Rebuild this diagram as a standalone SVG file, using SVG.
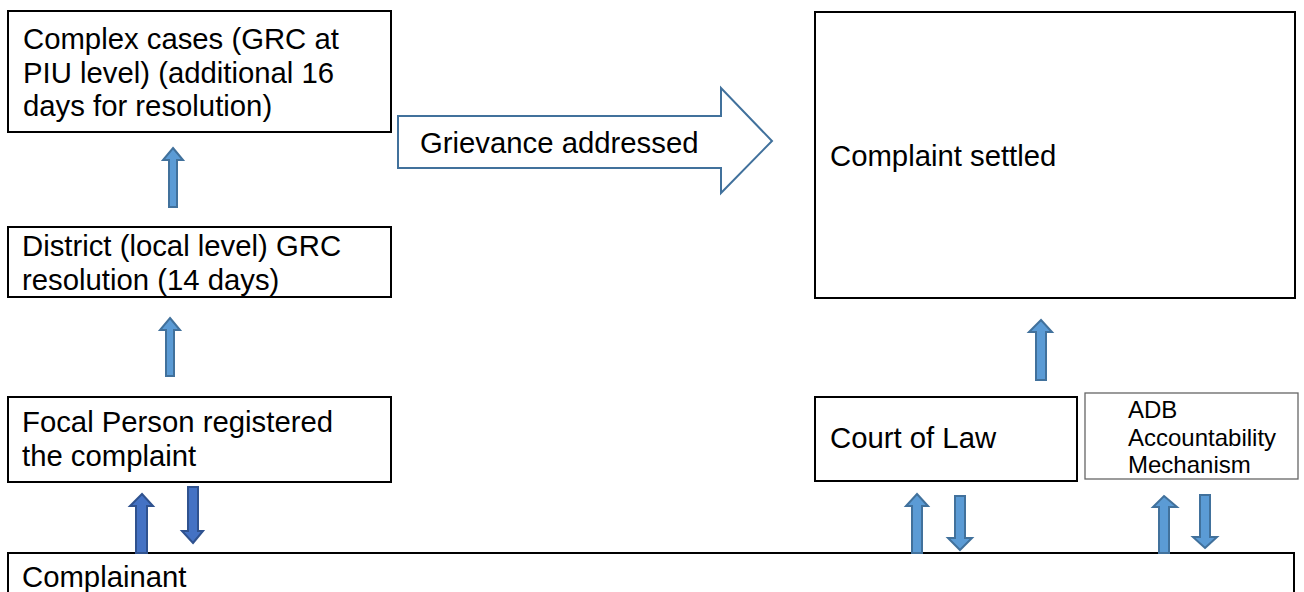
<svg xmlns="http://www.w3.org/2000/svg" width="1304" height="592" viewBox="0 0 1304 592">
<style>
.box{fill:#fff;stroke:#000;stroke-width:2}
.thin{fill:#fff;stroke:#666;stroke-width:1.3}
.t{font-family:"Liberation Sans",Arial,sans-serif;font-size:29.3px;fill:#000}
.s{font-family:"Liberation Sans",Arial,sans-serif;font-size:24px;fill:#000}
.a{fill:#5B9BD5;stroke:#41719C;stroke-width:2;stroke-linejoin:miter}
.d{fill:#4472C4;stroke:#2F528F;stroke-width:2;stroke-linejoin:miter}
.big{fill:#fff;stroke:#41719C;stroke-width:2}
</style>
<rect width="1304" height="592" fill="#fff"/>
<g id="complex">
<rect class="box" x="8" y="11" width="383" height="121"/>
<text class="t" x="23" y="49">Complex cases (GRC at</text>
<text class="t" x="23" y="83">PIU level) (additional 16</text>
<text class="t" x="23" y="116">days for resolution)</text>
</g>
<g id="district">
<rect class="box" x="8" y="227" width="383" height="70"/>
<text class="t" x="22" y="256">District (local level) GRC</text>
<text class="t" x="22" y="290">resolution (14 days)</text>
</g>
<g id="focal">
<rect class="box" x="8" y="397" width="383" height="85"/>
<text class="t" x="22" y="432">Focal Person registered</text>
<text class="t" x="22" y="466">the complaint</text>
</g>
<g id="complainant">
<rect class="box" x="8" y="553" width="1286" height="60"/>
<text class="t" x="22" y="587">Complainant</text>
</g>
<g id="settled">
<rect class="box" x="815" y="12" width="480" height="286"/>
<text class="t" x="830" y="166">Complaint settled</text>
</g>
<g id="court">
<rect class="box" x="815" y="397" width="262" height="84"/>
<text class="t" x="830" y="448">Court of Law</text>
</g>
<g id="adb">
<rect class="thin" x="1085" y="393" width="213" height="86"/>
<text class="s" x="1128" y="418">ADB</text>
<text class="s" x="1128" y="446">Accountability</text>
<text class="s" x="1128" y="473">Mechanism</text>
</g>
<g id="connectors">
<g id="grievance">
<polygon class="big" points="398,116 721,116 721,88 772,141 721,193 721,168 398,168"/>
<text class="t" x="420" y="153">Grievance addressed</text>
</g>
<polygon class="a" points="173,148 183,160 177,160 177,207 169,207 169,160 163,160"/>
<polygon class="a" points="170,318 180,330 174,330 174,376 166,376 166,330 160,330"/>
<polygon class="a" points="1041,320 1052,332 1046,332 1046,380 1036,380 1036,332 1029,332"/>
<polygon class="d" points="142,494 153,506 147,506 147,553 136,553 136,506 130,506"/>
<polygon class="d" points="193,543 203,531 198,531 198,487 188,487 188,531 182,531"/>
<polygon class="a" points="917,494 928,506 922,506 922,553 912,553 912,506 906,506"/>
<polygon class="a" points="960,550 972,538 965,538 965,496 955,496 955,538 948,538"/>
<polygon class="a" points="1164,496 1177,507 1169,507 1169,553 1159,553 1159,507 1153,507"/>
<polygon class="a" points="1205,548 1217,537 1210,537 1210,495 1200,495 1200,537 1193,537"/>
</g>
</svg>
